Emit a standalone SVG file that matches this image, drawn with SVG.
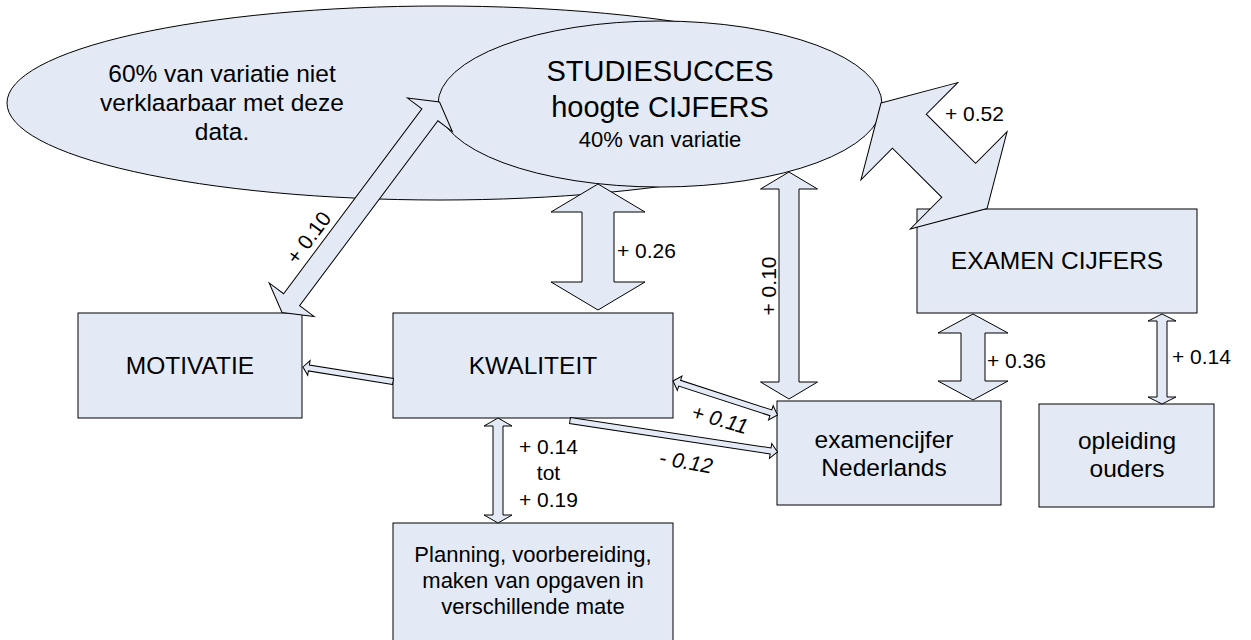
<svg xmlns="http://www.w3.org/2000/svg" width="1251" height="640" viewBox="0 0 1251 640">
<style>
.shape{fill:#E4EAF5;stroke:#000;stroke-width:1}
.arrow{fill:#E4EAF5;stroke:#000;stroke-width:1;stroke-linejoin:miter}
text{font-family:"Liberation Sans",Arial,sans-serif;fill:#000}
.big{font-size:24.5px;text-anchor:middle}
.title{font-size:29px;text-anchor:middle}
.mid{font-size:22px;text-anchor:middle}
.lbl{font-size:21px}
.lblm{font-size:21px;text-anchor:middle}
.it{font-style:italic}
</style>
<rect width="1251" height="640" fill="#fff"/>
<g id="node-unexplained">
<ellipse class="shape" cx="440" cy="103" rx="433" ry="97"/>
<text class="big" x="222" y="82">60% van variatie niet</text>
<text class="big" x="222" y="111">verklaarbaar met deze</text>
<text class="big" x="222" y="140">data.</text>
</g>
<g id="node-studiesucces">
<ellipse class="shape" cx="660" cy="104" rx="222" ry="83"/>
<text class="title" x="660" y="81">STUDIESUCCES</text>
<text class="title" x="660" y="117">hoogte CIJFERS</text>
<text class="mid" x="660" y="147">40% van variatie</text>
</g>
<g id="node-motivatie">
<rect class="shape" x="78" y="313" width="224" height="105"/>
<text class="big" x="190" y="374">MOTIVATIE</text>
</g>
<g id="node-kwaliteit">
<rect class="shape" x="393" y="313" width="280" height="105"/>
<text class="big" x="533" y="374">KWALITEIT</text>
</g>
<g id="node-examen">
<rect class="shape" x="917" y="209" width="280" height="104"/>
<text class="big" x="1057" y="269">EXAMEN CIJFERS</text>
</g>
<g id="node-nederlands">
<rect class="shape" x="777" y="401" width="224" height="104"/>
<text class="big" x="884" y="448">examencijfer</text>
<text class="big" x="884" y="476">Nederlands</text>
</g>
<g id="node-ouders">
<rect class="shape" x="1039" y="404" width="175" height="103"/>
<text class="big" x="1127" y="449">opleiding</text>
<text class="big" x="1127" y="477">ouders</text>
</g>
<g id="node-planning">
<rect class="shape" x="393" y="523" width="280" height="125"/>
<text class="mid" x="533" y="562">Planning, voorbereiding,</text>
<text class="mid" x="533" y="588">maken van opgaven in</text>
<text class="mid" x="533" y="614">verschillende mate</text>
</g>
<g id="connectors">
<polygon class="arrow" transform="translate(439.5,102) rotate(126.8)" points="0,0 16,-28 16,-10 246.9,-10 246.9,-28 262.9,0 246.9,28 246.9,10 16,10 16,28"/>
<polygon class="arrow" transform="translate(598,184) rotate(90)" points="0,0 28,-47 28,-16 98,-16 98,-47 126,0 98,47 98,16 28,16 28,47"/>
<polygon class="arrow" transform="translate(789,172) rotate(90)" points="0,0 17,-28.5 17,-10 210,-10 210,-28.5 227,0 210,28.5 210,10 17,10 17,28.5"/>
<polygon class="arrow" transform="translate(973,314) rotate(90)" points="0,0 19,-35 19,-12 67,-12 67,-35 86,0 67,35 67,12 19,12 19,35"/>
<polygon class="arrow" transform="translate(1162,314) rotate(90)" points="0,0 7,-14 7,-5 83,-5 83,-14 90,0 83,14 83,5 7,5 7,14"/>
<polygon class="arrow" transform="translate(498,418) rotate(90)" points="0,0 8,-14 8,-5 97,-5 97,-14 105,0 97,14 97,5 8,5 8,14"/>
<polygon class="arrow" transform="translate(881,103) rotate(44.86)" points="0,0 40,-68.6 40,-24 109.6,-24 109.6,-68.6 149.6,0 109.6,68.6 109.6,24 40,24 40,68.6"/>
<polygon class="arrow" transform="translate(673,381) rotate(18.02)" points="0,0 7,-7.5 7,-3 102.9,-3 102.9,-7.5 109.9,0 102.9,7.5 102.9,3 7,3 7,7.5"/>
<polygon class="arrow" transform="translate(570,420.5) rotate(8.63)" points="0,-3 202.9,-3 202.9,-7.5 209.9,0 202.9,7.5 202.9,3 0,3"/>
<polygon class="arrow" transform="translate(393,381.5) rotate(189.15)" points="0,-3 85.2,-3 85.2,-7.5 91.2,0 85.2,7.5 85.2,3 0,3"/>
<text class="lblm" transform="translate(308.5,237.5) rotate(-53.2)" x="0" y="7.5">+ 0.10</text>
<text class="lbl" x="617" y="258">+ 0.26</text>
<text class="lblm" transform="translate(768.5,286) rotate(-90)" x="0" y="7.5">+ 0.10</text>
<text class="lbl" x="945" y="121">+ 0.52</text>
<text class="lbl" x="987" y="368">+ 0.36</text>
<text class="lbl" x="1172" y="364">+ 0.14</text>
<text class="lblm" x="548.5" y="454">+ 0.14</text>
<text class="lblm" x="548.5" y="480">tot</text>
<text class="lblm" x="548.5" y="507">+ 0.19</text>
<text class="lblm it" transform="translate(720,419) rotate(16)" x="0" y="7.5">+ 0.11</text>
<text class="lblm it" transform="translate(686,461.5) rotate(10)" x="0" y="7.5">- 0.12</text>
</g>
</svg>
